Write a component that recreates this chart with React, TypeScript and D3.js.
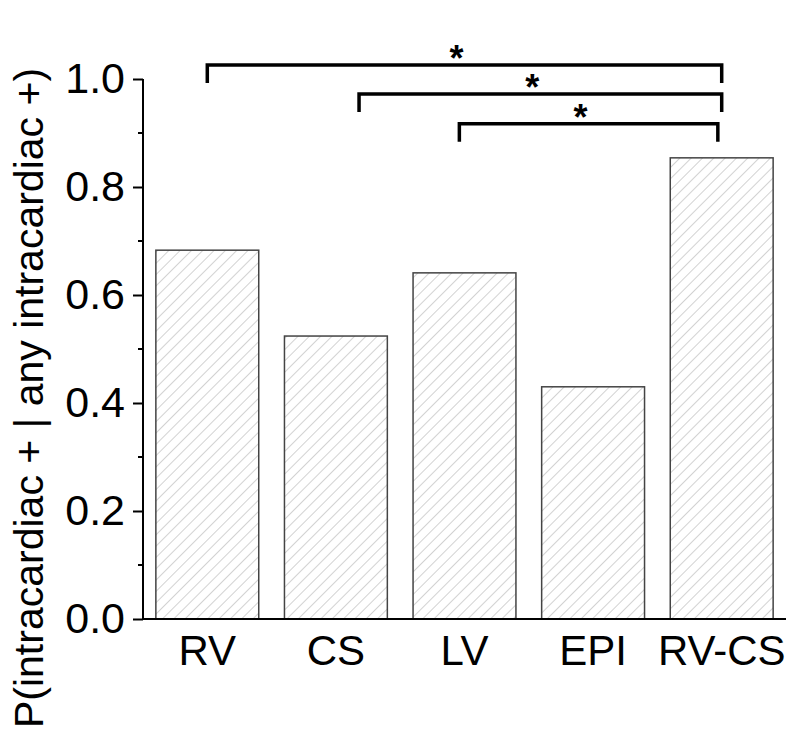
import { useEffect, useRef } from 'react'
import * as d3 from 'd3'

const categories = ['RV', 'CS', 'LV', 'EPI', 'RV-CS']
const probabilities = [0.683, 0.524, 0.641, 0.43, 0.854]
const yTicks = [0, 0.2, 0.4, 0.6, 0.8, 1.0]
const yMinorTicks = [0.1, 0.3, 0.5, 0.7, 0.9]
// significance brackets: start/end as category positions, level in y units
const bracketFrom = [0, 1.18, 1.96]
const bracketTo = [4, 4, 3.97]
const bracketLevel = [1.026, 0.972, 0.917]
const bracketLabels = ['*', '*', '*']

export default function App() {
  const ref = useRef<SVGSVGElement>(null)

  useEffect(() => {
    const svg = d3.select(ref.current)
    svg.selectAll('*').remove()

    const left = 143, right = 786, top = 79, bottom = 619
    const font = 'Liberation Sans, Arial, sans-serif'
    const x = d3.scaleBand().domain(categories).range([left, right]).paddingInner(0.2).paddingOuter(0.1)
    const y = d3.scaleLinear().domain([0, 1]).range([bottom, top])
    const pos = (i: number) => (x(categories[0]) as number) + x.bandwidth() / 2 + i * x.step()

    const defs = svg.append('defs')
    const pat = defs.append('pattern')
      .attr('id', 'hatch')
      .attr('patternUnits', 'userSpaceOnUse')
      .attr('width', 8).attr('height', 8)
      .attr('patternTransform', 'rotate(45)')
    pat.append('rect').attr('width', 8).attr('height', 8).attr('fill', 'white')
    pat.append('line')
      .attr('x1', 0).attr('y1', 0).attr('x2', 0).attr('y2', 8)
      .attr('stroke', '#b4b4b4').attr('stroke-width', 1.2)

    svg.selectAll('.bar')
      .data(probabilities)
      .join('rect')
      .attr('class', 'bar')
      .attr('x', (d, i) => x(categories[i]) as number)
      .attr('y', d => y(d))
      .attr('width', x.bandwidth())
      .attr('height', d => bottom - y(d))
      .attr('fill', 'url(#hatch)')
      .attr('stroke', '#444')
      .attr('stroke-width', 1.5)

    // y axis
    const yAxis = d3.axisLeft(y).tickValues(yTicks).tickFormat(d3.format('.1f')).tickSize(10).tickPadding(8)
    const gy = svg.append('g').attr('transform', `translate(${left},0)`).call(yAxis)
    gy.select('.domain').attr('stroke-width', 2).attr('d', `M0,${top}V${bottom}`)
    gy.selectAll('.tick line').attr('stroke-width', 2)
    gy.selectAll('.tick text')
      .attr('font-family', font)
      .attr('font-size', 43).attr('fill', '#000')
    gy.selectAll('.minor')
      .data(yMinorTicks)
      .join('line')
      .attr('class', 'minor')
      .attr('x1', -5).attr('x2', 0)
      .attr('y1', d => y(d)).attr('y2', d => y(d))
      .attr('stroke', '#000').attr('stroke-width', 2)

    // x axis
    const xAxis = d3.axisBottom(x).tickSize(0).tickPadding(16)
    const gx = svg.append('g').attr('transform', `translate(0,${bottom})`).call(xAxis)
    gx.select('.domain').attr('stroke-width', 2).attr('d', `M${left},0H${right}`)
    gx.selectAll('.tick text')
      .attr('font-family', font)
      .attr('font-size', 42).attr('fill', '#000')

    // axis title
    svg.append('text')
      .attr('transform', `translate(43,398) rotate(-90)`)
      .attr('text-anchor', 'middle')
      .attr('font-family', font)
      .attr('font-size', 41)
      .text('P(intracardiac + | any intracardiac +)')

    // brackets
    const legLen = 18
    bracketLevel.forEach((lvl, k) => {
      const yy = y(lvl)
      const x1 = pos(bracketFrom[k]), x2 = pos(bracketTo[k])
      svg.append('path')
        .attr('d', `M${x1},${yy + legLen}V${yy}H${x2}V${yy + legLen}`)
        .attr('fill', 'none').attr('stroke', '#000').attr('stroke-width', 3.5)
      svg.append('text')
        .attr('x', (x1 + x2) / 2 - 8)
        .attr('y', yy + 6)
        .attr('text-anchor', 'middle')
        .attr('font-family', font)
        .attr('font-weight', 'bold')
        .attr('font-size', 36)
        .text(bracketLabels[k])
    })
  }, [])

  return (
    <svg ref={ref} width={800} height={752} style={{ position: 'absolute', left: 0, top: 0, background: '#fff' }} />
  )
}
